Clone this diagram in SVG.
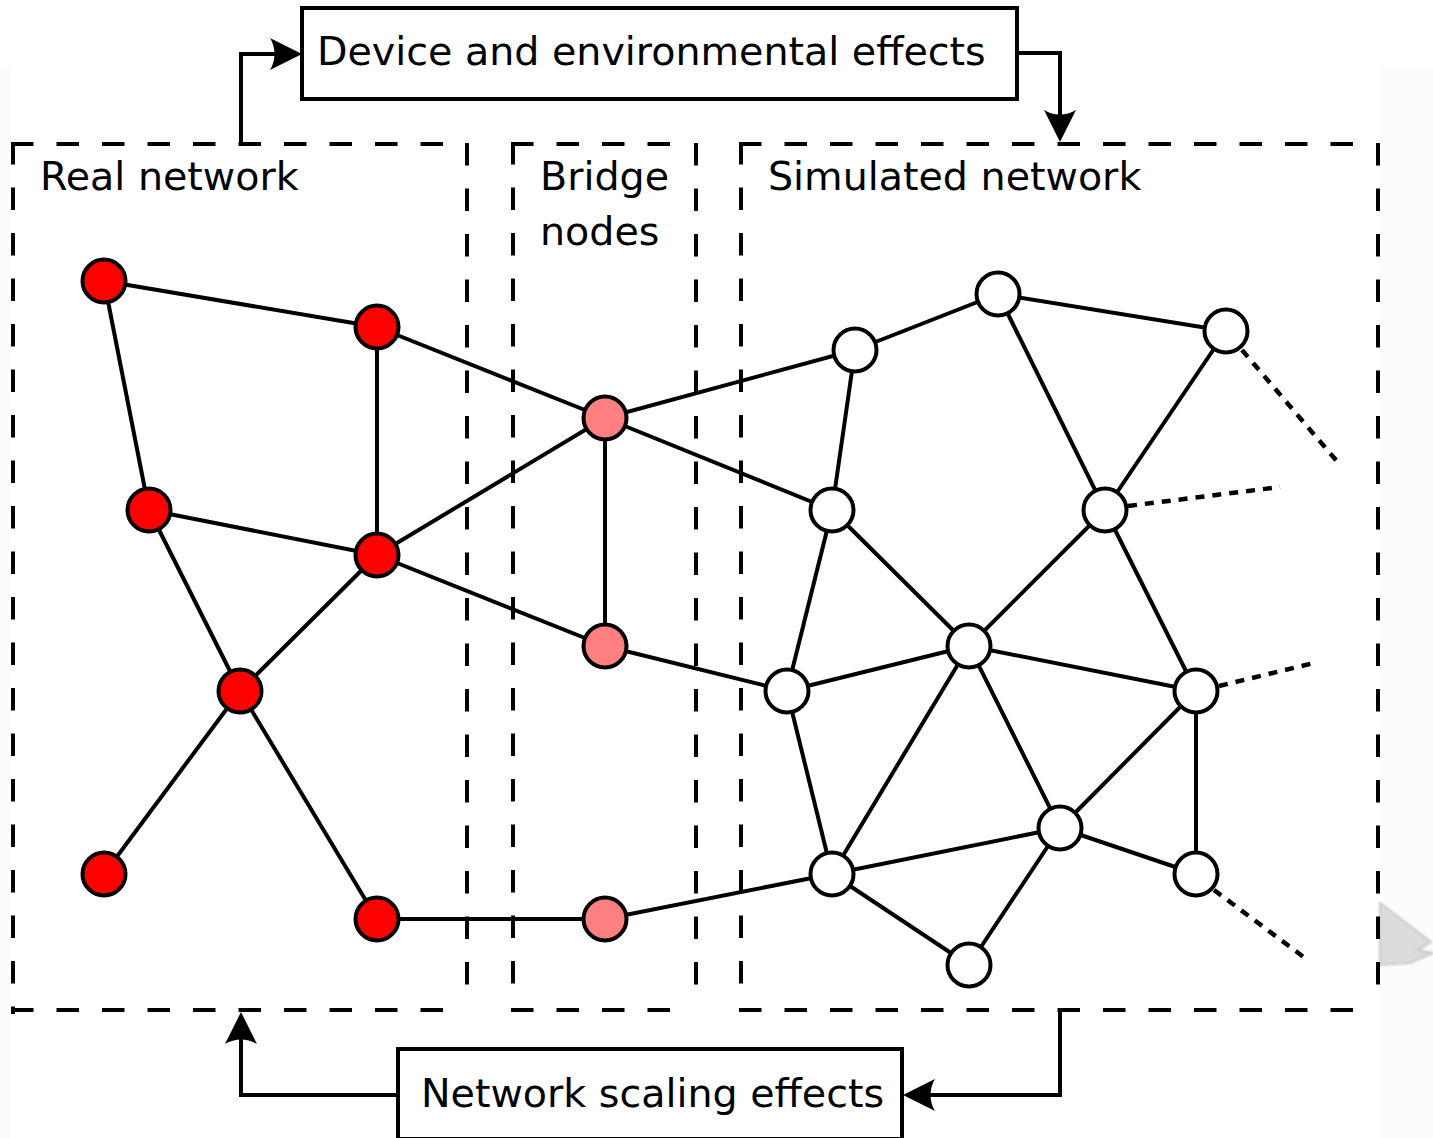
<svg xmlns="http://www.w3.org/2000/svg" width="1433" height="1138" viewBox="0 0 1433 1138">
  <style>
    .label { font-family: "DejaVu Sans", "Liberation Sans", sans-serif; font-size: 39.6px; fill: #000; }
    .zone { fill: none; stroke: #000; stroke-width: 4; stroke-dasharray: 18.5 27; stroke-linecap: square; }
    .edge { fill: none; stroke: #000; stroke-width: 4; }
    .open { fill: none; stroke: #000; stroke-width: 4.5; stroke-dasharray: 9 8; }
    .flow { fill: none; stroke: #000; stroke-width: 4; stroke-linejoin: miter; }
    .box { fill: #fff; stroke: #000; stroke-width: 4; }
    .node { stroke: #000; stroke-width: 4; }
    .real { fill: #ff0000; }
    .bridge { fill: #ff8080; }
    .sim { fill: #fff; }
  </style>
  <defs>
    <marker id="arrow" markerUnits="userSpaceOnUse" orient="auto" viewBox="-14 -18 36 36" markerWidth="36" markerHeight="36" refX="0" refY="0">
      <path d="M20,0 L-12,-16 C-6,-6 -6,6 -12,16 Z" fill="#000"/>
    </marker>
    <filter id="soft" x="-20%" y="-20%" width="140%" height="140%">
      <feGaussianBlur stdDeviation="0.8"/>
    </filter>
  </defs>

  <!-- page background with faint margins -->
  <rect x="0" y="0" width="1433" height="1138" fill="#fff"/>
  <rect x="0" y="68" width="10" height="1070" fill="#fcfcfc"/>
  <rect x="1380" y="68" width="53" height="1070" fill="#fcfcfc"/>
  <path d="M1380,903 L1431,942 L1418,950 L1433,953 L1410,963 L1380,965 Z" fill="#dcdcdc" stroke="#c9c9c9" stroke-width="2" filter="url(#soft)"/>

  <!-- dashed zones -->
  <g id="zones">
    <path class="zone" d="M13,144 H460"/>
    <path class="zone" d="M13,144 V1012"/>
    <path class="zone" d="M467,145 V990"/>
    <path class="zone" d="M13,1010 H460"/>

    <path class="zone" d="M513,144 H680"/>
    <path class="zone" d="M513,144 V990"/>
    <path class="zone" d="M696,145 V990"/>
    <path class="zone" d="M513,1010 H680"/>

    <path class="zone" d="M741,144 H1360"/>
    <path class="zone" d="M741,144 V990"/>
    <path class="zone" d="M1378,145 V990"/>
    <path class="zone" d="M741,1010 H1360"/>

    <text class="label" x="40" y="190">Real network</text>
    <text class="label" x="540" y="190">Bridge</text>
    <text class="label" x="540" y="245">nodes</text>
    <text class="label" x="768" y="190">Simulated network</text>
  </g>

  <!-- effect boxes -->
  <g id="device-effects">
    <rect class="box" x="302" y="8" width="715" height="91"/>
    <text class="label" x="317" y="65">Device and environmental effects</text>
  </g>
  <g id="scaling-effects">
    <rect class="box" x="398" y="1049" width="504" height="90"/>
    <text class="label" x="421" y="1107">Network scaling effects</text>
  </g>

  <!-- connectors -->
  <g id="connectors">
    <path class="flow" d="M241,144 V54 H282" marker-end="url(#arrow)"/>
    <path class="flow" d="M1017,53 H1060 V122" marker-end="url(#arrow)"/>
    <path class="flow" d="M398,1095 H241 V1032" marker-end="url(#arrow)"/>
    <path class="flow" d="M1060,1010 V1095 H923" marker-end="url(#arrow)"/>

    <!-- real network links -->
    <line class="edge" x1="104" y1="281" x2="377" y2="327"/>
    <line class="edge" x1="104" y1="281" x2="149" y2="510"/>
    <line class="edge" x1="377" y1="327" x2="377" y2="555"/>
    <line class="edge" x1="377" y1="327" x2="605" y2="418"/>
    <line class="edge" x1="149" y1="510" x2="377" y2="555"/>
    <line class="edge" x1="149" y1="510" x2="240" y2="691"/>
    <line class="edge" x1="377" y1="555" x2="605" y2="418"/>
    <line class="edge" x1="377" y1="555" x2="240" y2="691"/>
    <line class="edge" x1="377" y1="555" x2="605" y2="646"/>
    <line class="edge" x1="240" y1="691" x2="104" y2="874"/>
    <line class="edge" x1="240" y1="691" x2="377" y2="919"/>
    <line class="edge" x1="377" y1="919" x2="605" y2="919"/>

    <!-- bridge links -->
    <line class="edge" x1="605" y1="418" x2="605" y2="646"/>
    <line class="edge" x1="605" y1="418" x2="855" y2="350"/>
    <line class="edge" x1="605" y1="418" x2="832" y2="510"/>
    <line class="edge" x1="605" y1="646" x2="787" y2="691"/>
    <line class="edge" x1="605" y1="919" x2="832" y2="874"/>

    <!-- simulated network links -->
    <line class="edge" x1="855" y1="350" x2="998" y2="294"/>
    <line class="edge" x1="855" y1="350" x2="832" y2="510"/>
    <line class="edge" x1="998" y1="294" x2="1226" y2="331"/>
    <line class="edge" x1="998" y1="294" x2="1105" y2="510"/>
    <line class="edge" x1="1226" y1="331" x2="1105" y2="510"/>
    <line class="edge" x1="832" y1="510" x2="787" y2="691"/>
    <line class="edge" x1="832" y1="510" x2="969" y2="646"/>
    <line class="edge" x1="1105" y1="510" x2="969" y2="646"/>
    <line class="edge" x1="1105" y1="510" x2="1196" y2="691"/>
    <line class="edge" x1="969" y1="646" x2="787" y2="691"/>
    <line class="edge" x1="969" y1="646" x2="1196" y2="691"/>
    <line class="edge" x1="969" y1="646" x2="832" y2="874"/>
    <line class="edge" x1="969" y1="646" x2="1060" y2="828"/>
    <line class="edge" x1="787" y1="691" x2="832" y2="874"/>
    <line class="edge" x1="1196" y1="691" x2="1060" y2="828"/>
    <line class="edge" x1="1196" y1="691" x2="1196" y2="874"/>
    <line class="edge" x1="1060" y1="828" x2="832" y2="874"/>
    <line class="edge" x1="1060" y1="828" x2="1196" y2="874"/>
    <line class="edge" x1="1060" y1="828" x2="969" y2="965"/>
    <line class="edge" x1="832" y1="874" x2="969" y2="965"/>

    <!-- links leaving the simulated area -->
    <line class="open" x1="1242" y1="350" x2="1341" y2="466"/>
    <line class="open" x1="1128" y1="506" x2="1280" y2="487"/>
    <line class="open" x1="1219" y1="686" x2="1318" y2="662"/>
    <line class="open" x1="1214" y1="890" x2="1309" y2="961"/>
  </g>

  <!-- real network nodes -->
  <g id="r1"><circle class="node real" cx="104" cy="281" r="21.5"/></g>
  <g id="r2"><circle class="node real" cx="377" cy="327" r="21.5"/></g>
  <g id="r3"><circle class="node real" cx="149" cy="510" r="21.5"/></g>
  <g id="r4"><circle class="node real" cx="377" cy="555" r="21.5"/></g>
  <g id="r5"><circle class="node real" cx="240" cy="691" r="21.5"/></g>
  <g id="r6"><circle class="node real" cx="104" cy="874" r="21.5"/></g>
  <g id="r7"><circle class="node real" cx="377" cy="919" r="21.5"/></g>

  <!-- bridge nodes -->
  <g id="b1"><circle class="node bridge" cx="605" cy="418" r="21.5"/></g>
  <g id="b2"><circle class="node bridge" cx="605" cy="646" r="21.5"/></g>
  <g id="b3"><circle class="node bridge" cx="605" cy="919" r="21.5"/></g>

  <!-- simulated nodes -->
  <g id="s1"><circle class="node sim" cx="855" cy="350" r="21.5"/></g>
  <g id="s2"><circle class="node sim" cx="998" cy="294" r="21.5"/></g>
  <g id="s3"><circle class="node sim" cx="1226" cy="331" r="21.5"/></g>
  <g id="s4"><circle class="node sim" cx="832" cy="510" r="21.5"/></g>
  <g id="s5"><circle class="node sim" cx="1105" cy="510" r="21.5"/></g>
  <g id="s6"><circle class="node sim" cx="969" cy="646" r="21.5"/></g>
  <g id="s7"><circle class="node sim" cx="787" cy="691" r="21.5"/></g>
  <g id="s8"><circle class="node sim" cx="1196" cy="691" r="21.5"/></g>
  <g id="s9"><circle class="node sim" cx="1060" cy="828" r="21.5"/></g>
  <g id="s10"><circle class="node sim" cx="832" cy="874" r="21.5"/></g>
  <g id="s11"><circle class="node sim" cx="1196" cy="874" r="21.5"/></g>
  <g id="s12"><circle class="node sim" cx="969" cy="965" r="21.5"/></g>
</svg>
